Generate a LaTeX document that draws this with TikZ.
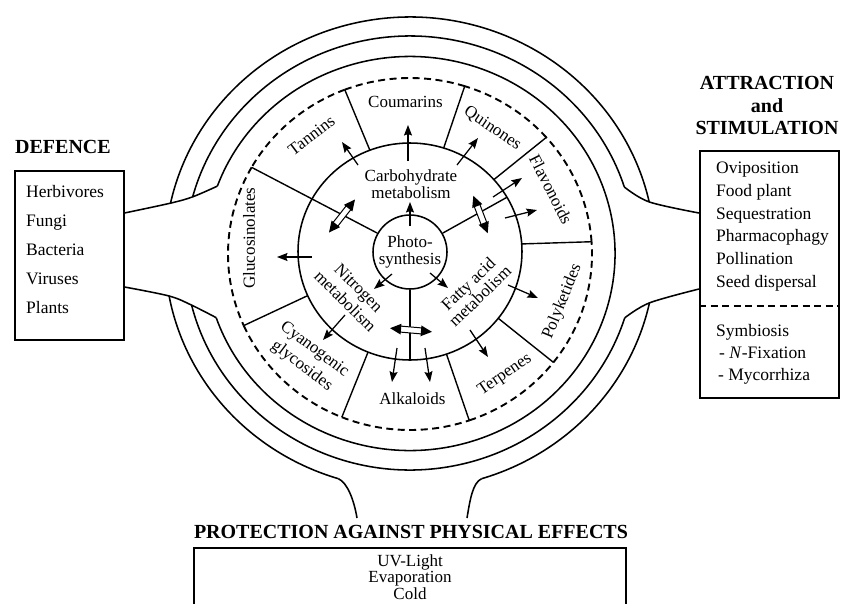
\documentclass[tikz,border=0pt]{standalone}
\usepackage{fontspec}
\setmainfont{Liberation Serif}
\usetikzlibrary{arrows.meta,calc}

% point on one of the nested outlines: name, angle, x radius, y radius, centre y
\newcommand\onWall[5]{\coordinate (#1) at ({410+#3*cos(#2)},{#5-#4*sin(#2)});}
% point on the metabolism ring and on the dashed compartment ring
\newcommand\onMeta[2]{\coordinate (#1) at ({410+112*cos(#2)},{251.5-108.5*sin(#2)});}
\newcommand\onZone[2]{\coordinate (#1) at ({410+182*cos(#2)},{254-176*sin(#2)});}
% hollow two-headed exchange arrow: centre, direction, half length
\newcommand\hollowpair[3]{%
  \begin{scope}[shift={#1},rotate=#2]
    \filldraw[fill=white,line width=1pt] ({-#3+9},-3) rectangle ({#3-9},3);
    \fill ({-#3},0) -- ({-#3+11},-5.4) -- ({-#3+11},5.4) -- cycle;
    \fill ({#3},0) -- ({#3-11},5.4) -- ({#3-11},-5.4) -- cycle;
  \end{scope}}

\begin{document}
\begin{tikzpicture}[x=1pt,y=-1pt,
  wall/.style={line width=1.55pt},
  part/.style={line width=1.4pt},
  zone/.style={line width=1.9pt,dash pattern=on 7pt off 4.5pt},
  flow/.style={line width=1.25pt,-{Stealth[length=10.5pt,width=8pt,inset=1.5pt]}},
  lbl/.style={inner sep=0pt,font=\fontsize{17}{17}\selectfont},
  item/.style={inner sep=0pt,font=\fontsize{17.5}{22.8}\selectfont,align=left,anchor=west},
  head/.style={inner sep=0pt,font=\bfseries\fontsize{20}{22.5}\selectfont},
  frame/.style={draw,line width=1.5pt,inner sep=0pt}]
\useasboundingbox (0,0) rectangle (841,603);

% ---- boxes of the three functional groups
\node[frame,anchor=north west,minimum width=109pt,minimum height=169pt] (defbox) at (14,170) {};
\node[frame,anchor=north west,minimum width=139pt,minimum height=247pt] (attbox) at (699,150) {};
\draw[line width=1.5pt] (194,612) -- (194,548) -- (626,548) -- (626,612);

\node[head,anchor=west] (defh) at (15,147) {DEFENCE};
\node[head,align=center] (atth) at (767,105.5) {ATTRACTION\\and\\STIMULATION};
\node[head] (proth) at (411,532) {PROTECTION AGAINST PHYSICAL EFFECTS};

\node[item,font=\fontsize{17.5}{29}\selectfont] (deflist) at (26,250)
  {Herbivores\\Fungi\\Bacteria\\Viruses\\Plants};
\node[item] (attlist) at (716,226.5)
  {Oviposition\\Food plant\\Sequestration\\Pharmacophagy\\Pollination\\Seed dispersal};
\coordinate (sepL) at ($(attbox.north west)+(0,156)$);
\coordinate (sepR) at ($(attbox.north east)+(0,156)$);
\draw[line width=1.5pt,dash pattern=on 7pt off 4.5pt] (sepL) -- (sepR);
\node[item,font=\fontsize{17.5}{22}\selectfont] (symb) at (716,354.5)
  {Symbiosis\\\hspace*{3pt}- \textit{N}-Fixation\\\hspace*{2pt}- Mycorrhiza};
\node[lbl,align=center,font=\fontsize{17}{16.3}\selectfont] (physlist) at (410,577)
  {UV-Light\\Evaporation\\Cold};

% ---- the three walls of the cell
\onWall{a1}{160}{205}{197}{253.5}
\onWall{a2}{199}{205}{197}{253.5}
\draw[wall] (a2) arc[start angle=-199,end angle=-520,x radius=205,y radius=197];

\onWall{b1}{17.7}{225}{217}{253}
\onWall{b2}{165}{225}{217}{253}
\onWall{b3}{193.9}{225}{217}{253}
\onWall{b4}{342.6}{225}{217}{253}
\draw[wall] (b1) arc[start angle=-17.7,end angle=-165,x radius=225,y radius=217];
\draw[wall] (b3) arc[start angle=-193.9,end angle=-342.6,x radius=225,y radius=217];

\onWall{c1}{12.5}{245}{236}{253}
\onWall{c2}{167.8}{245}{236}{253}
\onWall{c3}{190.5}{245}{236}{253}
\onWall{c4}{253}{245}{236}{253}
\onWall{c5}{287}{245}{236}{253}
\onWall{c6}{347.8}{245}{236}{253}
\draw[wall] (c1) arc[start angle=-12.5,end angle=-167.8,x radius=245,y radius=236];
\draw[wall] (c3) arc[start angle=-190.5,end angle=-253,x radius=245,y radius=236];
\draw[wall] (c5) arc[start angle=-287,end angle=-347.8,x radius=245,y radius=236];

% ---- channels from the boxes into the walls
\coordinate (dL1) at ($(defbox.north east)+(0,43)$);
\coordinate (dL2) at ($(defbox.north east)+(0,117)$);
\coordinate (aR1) at ($(attbox.north west)+(0,63)$);
\coordinate (aR2) at ($(attbox.north west)+(0,139)$);
\coordinate (pf1) at (357,518);
\coordinate (pf2) at (467,518);
\draw[wall] plot[smooth,tension=0.55] coordinates {(dL1) (c2) (b2) (a1)};
\draw[wall] plot[smooth,tension=0.55] coordinates {(dL2) (c3) (b3) (a2)};
\draw[wall] plot[smooth,tension=0.55] coordinates {(aR1) (c1) (b1)};
\draw[wall] plot[smooth,tension=0.55] coordinates {(aR2) (c6) (b4)};
\draw[wall] (c4) .. controls +(9,4) and +(-3,-18) .. (pf1);
\draw[wall] (c5) .. controls +(-9,4) and +(3,-18) .. (pf2);

% ---- compartments of secondary metabolites
\foreach \a/\b in {4/41.5,41.5/72.5,72.5/111,111/150.5,150.5/204,204/248,248/289,289/322,322/364}
  \draw[zone] ({410+182*cos(\a)},{254-176*sin(\a)})
    arc[start angle=-\a,end angle=-\b,x radius=182,y radius=176];
\foreach \n/\t in {1/111,2/72.5,3/41.5,4/4,5/-38,6/-71,7/248,8/204}{
  \onMeta{mi\n}{\t}
  \onZone{zo\n}{\t}
  \draw[part] (mi\n) -- (zo\n);
}

% ---- primary metabolism
\draw[wall] (410,251.5) ellipse[x radius=112,y radius=108.5];
\node[circle,draw,wall,minimum size=74pt,inner sep=0pt,align=center,
      font=\fontsize{17}{17}\selectfont] (photo) at (410,252) {Photo-\\synthesis};
\onZone{zo9}{150.5}
\onMeta{m30}{30}
\onMeta{m270}{270}
\draw[part] (photo.150.5) -- (zo9);
\draw[part] (photo.30) -- (m30);
\draw[part] (photo.270) -- (m270);

\hollowpair{(342,216)}{51.8}{21}
\hollowpair{(480.5,214.5)}{-69}{20}
\hollowpair{(411,330)}{-5}{21}

% ---- labels
\node[lbl] (coum) at (405.5,102) {Coumarins};
\node[lbl,rotate=37] (tann) at (311.5,135.5) {Tannins};
\node[lbl,rotate=-34] (quin) at (492.5,128.5) {Quinones};
\node[lbl,rotate=-63] (flav) at (551,189.5) {Flavonoids};
\node[lbl,rotate=68] (poly) at (562.5,301.5) {Polyketides};
\node[lbl,rotate=34] (terp) at (505,375) {Terpenes};
\node[lbl] (alka) at (412.5,399) {Alkaloids};
\node[lbl,rotate=-37,align=center,font=\fontsize{17}{21}\selectfont] (cyan) at (308,358)
  {Cyanogenic\\glycosides};
\node[lbl,rotate=90] (gluc) at (249,238) {Glucosinolates};
\node[lbl,align=center,font=\fontsize{17}{16.6}\selectfont] (carb) at (411,184)
  {Carbohydrate\\metabolism};
\node[lbl,rotate=-45,align=center,font=\fontsize{17}{19}\selectfont] (nitro) at (352,294.5)
  {Nitrogen\\metabolism};
\node[lbl,rotate=44,align=center,font=\fontsize{17}{17}\selectfont] (fatty) at (474,290)
  {Fatty acid\\metabolism};

% ---- biosynthetic flows
\foreach \xa/\ya/\xb/\yb [count=\i] in {
   410/226/410/202, 392/274/374/289, 430/273/448/288,
   408/161/408/125, 358/165/342/142, 457/165/478/138,
   493/197/522/178, 505/218/537/210, 508/285/538/298,
   470/330/488/357, 425/348/430/382, 397/348/392/382,
   345/315/323/340, 312/257/277/257}{
  \coordinate (fs\i) at (\xa,\ya);
  \coordinate (fe\i) at (\xb,\yb);
  \draw[flow] (fs\i) -- (fe\i);
}
\end{tikzpicture}
\end{document}
